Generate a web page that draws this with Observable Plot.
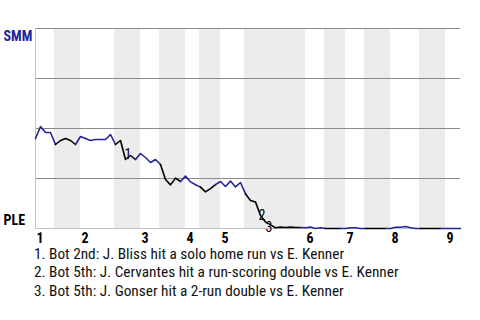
<!DOCTYPE html>
<html>
<head>
<meta charset="utf-8">
<script src="https://cdn.jsdelivr.net/npm/d3@7"></script>
<script src="https://cdn.jsdelivr.net/npm/@observablehq/plot@0.6"></script>
<style>
  html, body { margin: 0; padding: 0; background: #fff; }
  #notes { font-family: "Liberation Sans Narrow", "Roboto Condensed", Roboto, sans-serif; font-size: 15.3px; line-height: 18.3px; color: #111; padding-left: 34px; margin-top: -1px; }
</style>
</head>
<body>
<div id="chart"></div>
<div id="notes"></div>
<script>
// Win probability for SMM after each plate appearance (index 0 = start of game)
const wp = [
  0.45, 0.51, 0.48, 0.48, 0.42, 0.44, 0.45, 0.44, 0.42, 0.46,
  0.45, 0.44, 0.445, 0.445, 0.445, 0.47, 0.42, 0.44, 0.345, 0.365,
  0.345, 0.375, 0.355, 0.33, 0.345, 0.32, 0.245, 0.218, 0.252, 0.235,
  0.262, 0.233, 0.219, 0.207, 0.183, 0.199, 0.219, 0.235, 0.21, 0.237,
  0.208, 0.23, 0.173, 0.14, 0.133, 0.065, 0.033, 0.018, 0.004, 0.007,
  0.005, 0.007, 0.005, 0.005, 0.004, 0.007, 0.0, 0.004, 0.0, 0.0,
  0.0, 0.0, 0.0, 0.004, 0.004, 0.0, 0.0, 0.0, 0.0, 0.0,
  0.0, 0.0, 0.006, 0.006, 0.01, 0.004, 0.0, 0.0, 0.0, 0.0,
  0.0, 0.0, 0.0, 0.0, 0.0, 0.0
];
// first and last plate appearance of each bottom half-inning (PLE batting)
const botFirst = [5, 17, 26, 34, 43, 59, 67, 78];
const botLast  = [8, 20, 29, 36, 53, 61, 70, 81];
// plate appearance index where each inning starts
const inningStart  = [0, 9, 21, 30, 37, 54, 62, 71, 82];
const inningLabels = ["1", "2", "3", "4", "5", "6", "7", "8", "9"];
// key events
const eventPA     = [18, 45, 46];
const eventLabels = ["1", "2", "3"];
const notes = [
  "1. Bot 2nd: J. Bliss hit a solo home run vs E. Kenner",
  "2. Bot 5th: J. Cervantes hit a run-scoring double vs E. Kenner",
  "3. Bot 5th: J. Gonser hit a 2-run double vs E. Kenner"
];
const teams = ["SMM", "PLE"];

const BLUE = "#23239a";
const FONT = '"Liberation Sans Narrow", "Roboto Condensed", Roboto, sans-serif';

// which team is batting for the PA that ends at j
const isBottom = j => botFirst.some((f, k) => j >= f && j <= botLast[k]);

// build runs of same-colour segments (sharing their boundary points)
const rows = [];
let run = 0, prevColor = null;
for (let j = 1; j < wp.length; j++) {
  const color = isBottom(j) ? "black" : BLUE;
  if (color !== prevColor) {
    run++;
    rows.push({x: j - 1, y: wp[j - 1], run, color});
    prevColor = color;
  }
  rows.push({x: j, y: wp[j], run, color});
}

const bands = botFirst.map((f, k) => ({x1: f - 1.2, x2: botLast[k] + 1}));

const ev = k => Plot.text([eventPA[k]], {
  x: d => d, y: d => wp[d], text: () => eventLabels[k],
  fontSize: 14, fontFamily: FONT, fill: "#000",
  dx: [2.5, 1.5, 3.5][k], dy: [-5, 0, 5.5][k]
});

const chart = Plot.plot({
  width: 480,
  height: 246,
  marginLeft: 35,
  marginRight: 20,
  marginTop: 28,
  marginBottom: 18,
  style: {fontFamily: FONT, background: "#fff"},
  x: {domain: [0, wp.length - 1]},
  y: {domain: [0, 1]},
  marks: [
    Plot.rect(bands, {x1: "x1", x2: "x2", y1: 0, y2: 1, fill: "#ececec"}),
    Plot.ruleY([0.25, 0.5, 0.75, 1], {stroke: "#8a8a8a", strokeWidth: 1}),
    Plot.ruleY([0], {stroke: "#c4c4c4", strokeWidth: 1}),
    Plot.ruleX([0], {stroke: "#c4c4c4", strokeWidth: 1}),
    Plot.line(rows, {x: "x", y: "y", z: "run", stroke: "color", strokeWidth: 1.6, strokeLinejoin: "round"}),
    ev(0), ev(1), ev(2),
    Plot.axisX(inningStart, {
      tickFormat: d => inningLabels[inningStart.indexOf(d)],
      tickSize: 0, tickPadding: 5, textAnchor: "start", dx: 1,
      fontSize: 14, fontWeight: "bold", fill: "#000", label: null
    }),
    Plot.axisY([1], {
      tickFormat: () => teams[0], tickSize: 0, tickPadding: 32, textAnchor: "start",
      fontSize: 14, fontWeight: "bold", fill: BLUE, dy: 8, label: null
    }),
    Plot.axisY([0], {
      tickFormat: () => teams[1], tickSize: 0, tickPadding: 32, textAnchor: "start",
      fontSize: 14, fontWeight: "bold", fill: "#000", dy: -8, label: null
    })
  ]
});
document.getElementById("chart").appendChild(chart);

const notesEl = document.getElementById("notes");
for (const n of notes) {
  const div = document.createElement("div");
  div.textContent = n;
  notesEl.appendChild(div);
}
</script>
</body>
</html>
